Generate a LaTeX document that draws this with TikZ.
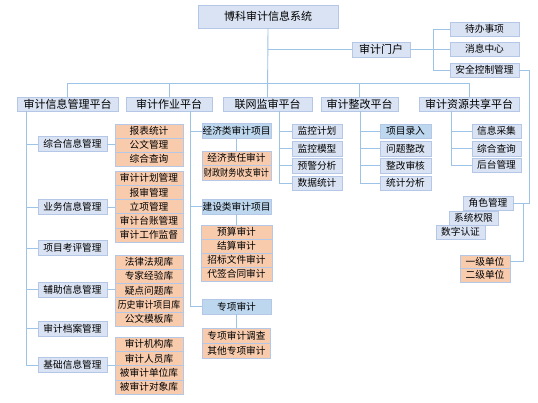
\documentclass[tikz,border=0pt]{standalone}
\usepackage{fontspec}
\newfontfamily\cjk{Noto Sans CJK SC}
\definecolor{boxfill}{HTML}{DAE3F3}
\definecolor{boxline}{HTML}{B4C7E7}
\definecolor{keyfill}{HTML}{BDD7EE}
\definecolor{subfill}{HTML}{F8CBAD}
\definecolor{wire}{HTML}{9DC3E6}

\begin{document}
\begin{tikzpicture}[x=1pt,y=-1pt,
    box/.style={draw=boxline,fill=boxfill,inner sep=0pt,minimum height=14pt,
      font=\cjk\fontsize{9.7}{10}\selectfont},
    big/.style={box,font=\cjk\fontsize{11}{12}\selectfont},
    key/.style={box,fill=keyfill},
    sub/.style={box,fill=subfill},
    wires/.style={draw=wire,line width=0.9pt}]
    \useasboundingbox (0,0) rectangle (538,403);
    % top levels
    \node[big,minimum width=140pt,minimum height=23pt] (root) at (268,16.5) {博科审计信息系统};
    \node[big,minimum width=58pt,minimum height=15pt] (portal) at (381,49.5) {审计门户};
    \foreach \n/\y/\t in {todo/29/待办事项,msg/49/消息中心,sec/70/安全控制管理}
      \node[box,minimum width=69pt] (\n) at (484.5,\y) {\t};
    \foreach \n/\x/\w/\t in {p1/67.5/101/审计信息管理平台,p2/169/86/审计作业平台,
        p3/267.5/89/联网监审平台,p4/359.5/77/审计整改平台,p5/469/100/审计资源共享平台}
      \node[big,minimum width=\w pt] (\n) at (\x,104) {\t};
    % security block
    \node[box,minimum width=50pt] (role) at (488,203) {角色管理};
    \node[box,minimum width=49pt] (perm) at (473.5,218) {系统权限};
    \node[box,minimum width=49pt] (cert) at (460.5,232) {数字认证};
    \node[sub,minimum width=50pt,minimum height=13.5pt] (u1) at (485,261.5) {一级单位};
    \node[sub,minimum width=50pt,minimum height=13.5pt] (u2) at (485,275) {二级单位};
    % column 1
    \foreach \t/\y [count=\i] in {综合信息管理/144,业务信息管理/207,项目考评管理/248,
        辅助信息管理/289.5,审计档案管理/328.5,基础信息管理/365}
      \node[box,minimum width=69pt,minimum height=15pt] (m\i) at (72.5,\y) {\t};
    \foreach \t [count=\i] in {报表统计,公文管理,综合查询}
      \node[sub,minimum width=68pt] (a\i) at (149,{131+(\i-1)*14}) {\t};
    \foreach \t [count=\i] in {审计计划管理,报审管理,立项管理,审计台账管理,审计工作监督}
      \node[sub,minimum width=68pt,minimum height=14.2pt] (b\i) at (149,{178.1+(\i-1)*14.2}) {\t};
    \foreach \t [count=\i] in {法律法规库,专家经验库,疑点问题库,
        {\scalebox{0.92}[1]{历史审计项目库}},公文模板库}
      \node[sub,minimum width=68pt,minimum height=14.2pt] (c\i) at (149,{262.1+(\i-1)*14.2}) {\t};
    \foreach \t [count=\i] in {审计机构库,审计人员库,被审计单位库,被审计对象库}
      \node[sub,minimum width=68pt,minimum height=14.25pt] (d\i) at (149,{344.1+(\i-1)*14.25}) {\t};
    % column 2
    \node[key,minimum width=69pt,minimum height=15pt] (jj) at (236.5,131) {经济类审计项目};
    \node[key,minimum width=69pt,minimum height=15pt] (js) at (236.5,206.5) {建设类审计项目};
    \node[key,minimum width=69pt,minimum height=15pt] (zx) at (236.5,306.5) {专项审计};
    \foreach \t [count=\i] in {经济责任审计,{\scalebox{0.84}[1]{财政财务收支审计}}}
      \node[sub,minimum width=69pt,minimum height=14.5pt] (e\i) at (236.5,{158.25+(\i-1)*14.5}) {\t};
    \foreach \t [count=\i] in {预算审计,结算审计,招标文件审计,代签合同审计}
      \node[sub,minimum width=71pt] (f\i) at (236.5,{232+(\i-1)*14}) {\t};
    \foreach \t [count=\i] in {专项审计调查,其他专项审计}
      \node[sub,minimum width=68pt,minimum height=15pt] (g\i) at (236.5,{335.5+(\i-1)*15}) {\t};
    % columns 3 to 5
    \foreach \t/\y [count=\i] in {监控计划/131,监控模型/148.5,预警分析/165.5,数据统计/183}
      \node[box,minimum width=50pt,minimum height=14.5pt] (w\i) at (317,\y) {\t};
    \foreach \t/\y [count=\i] in {问题整改/148.5,整改审核/165.5,统计分析/183}
      \node[box,minimum width=51pt,minimum height=14.5pt] (r\i) at (405.5,\y) {\t};
    \node[key,minimum width=51pt,minimum height=14.5pt] (r0) at (405.5,131) {项目录入};
    \foreach \t/\y [count=\i] in {信息采集/131,综合查询/148.5,后台管理/165}
      \node[box,minimum width=49pt,minimum height=14.5pt] (s\i) at (496.5,\y) {\t};

    % connectors
    \coordinate (bus) at (0,83);
    \coordinate (pj) at (433,0);
    \coordinate (rj) at (529,0);
    \coordinate (uj) at (523,0);
    \draw[wires] (root.south) -- (p3.north);
    \draw[wires] (root.south |- portal) -- (portal.west);
    \draw[wires] (p1.north) -- (p1.north |- bus) -- (p5.north |- bus) -- (p5.north);
    \foreach \p in {p2,p4} \draw[wires] (\p.north) -- (\p.north |- bus);
    \draw[wires] (portal.east) -- (portal.east -| pj);
    \draw[wires] (pj |- todo) -- (pj |- sec);
    \foreach \n in {todo,msg,sec} \draw[wires] (pj |- \n) -- (\n.west);
    \draw[wires] (sec.east) -| (rj |- role) -- (role.east);
    \draw[wires] (uj |- role) |- (u1.east);
    % trunks
    \coordinate (c1) at (26,0);
    \draw[wires] (p1.south -| c1) -- (c1 |- m6);
    \foreach \i in {1,...,6} \draw[wires] (c1 |- m\i) -- (m\i.west);
    \draw[wires] (m1.east) -- (m1.east -| a2.west);
    \draw[wires] (m2.east) -- (m2.east -| b3.west);
    \draw[wires] (m4.east) -- (m4.east -| c3.west);
    \draw[wires] (m6.east) -- (m6.east -| d3.west);
    \coordinate (c2) at (190,0);
    \draw[wires] (p2.south -| c2) -- (c2 |- zx);
    \foreach \n in {jj,js,zx} \draw[wires] (c2 |- \n) -- (\n.west);
    \draw[wires] (jj.south) -- (e1.north);
    \draw[wires] (js.south) -- (f1.north);
    \draw[wires] (zx.south) -- (g1.north);
    \coordinate (c3) at (279,0);
    \draw[wires] (p3.south -| c3) -- (c3 |- w4);
    \foreach \i in {1,...,4} \draw[wires] (c3 |- w\i) -- (w\i.west);
    \coordinate (c4) at (360,0);
    \draw[wires] (p4.south -| c4) -- (c4 |- r3);
    \foreach \n in {r0,r1,r2,r3} \draw[wires] (c4 |- \n) -- (\n.west);
    \coordinate (c5) at (451,0);
    \draw[wires] (p5.south -| c5) -- (c5 |- s3);
    \foreach \i in {1,2,3} \draw[wires] (c5 |- s\i) -- (s\i.west);
\end{tikzpicture}
\end{document}
